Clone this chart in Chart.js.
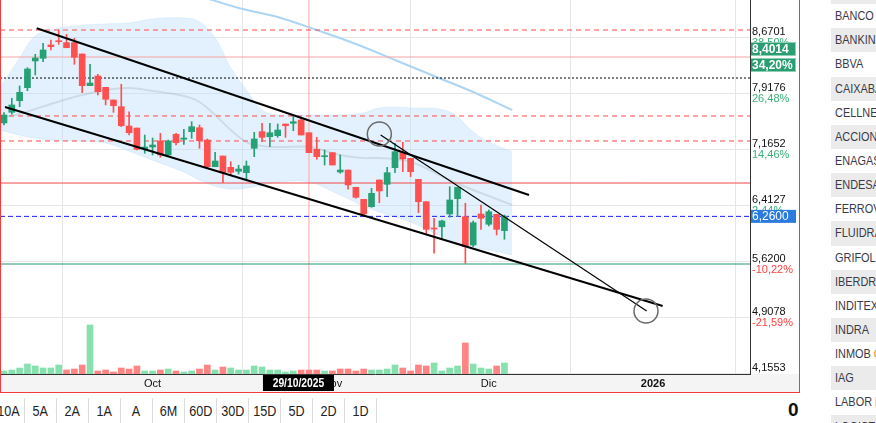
<!DOCTYPE html>
<html lang="es">
  <head>
    <meta charset="UTF-8" />
    <meta name="viewport" content="width=device-width, initial-scale=1.0" />
    <script src="https://cdn.jsdelivr.net/npm/chart.js@4.4.1/dist/chart.umd.min.js"></script>
    <title>Cotización</title>
    <style>
      body { margin: 0; width: 876px; height: 423px; overflow: hidden; background: #fff;
             font-family: "Liberation Sans", Arial, sans-serif; }
      #chart { position: absolute; left: 0; top: 0; }
      #frame { position: absolute; left: 0; top: -1px; width: 800px; height: 394px; box-sizing: border-box;
               border: 1px solid #f03c3c; pointer-events: none; }
      #periods { position: absolute; left: -7px; top: 398px; height: 25px; display: flex; }
      #periods div { width: 31px; border-right: 1px solid #dcdcdc; text-align: center; line-height: 25px;
                     font-size: 15px; color: #222; }
      #periods span, #list span { display: inline-block; transform: scaleX(0.84); }
      #periods span { transform-origin: center; }
      #zero { position: absolute; left: 788px; top: 399px; font: bold 19px "Liberation Sans", Arial, sans-serif; color: #111; }
      #list { position: absolute; left: 831px; top: -20px; width: 60px; }
      #list div { height: 24.15px; line-height: 24.15px; padding-left: 4px; font-size: 13px; color: #3a3a48;
                  white-space: nowrap; overflow: hidden; }
      #list span { transform-origin: left center; }
      #list div:nth-child(odd) { background: #ebebeb; }
    </style>
  </head>
  <body>
    <canvas id="chart" width="799" height="392"></canvas>
    <div id="frame"></div>
    <div id="periods"></div>
    <div id="zero">0</div>
    <div id="list"></div>
    <script>
      // velas diarias (indice 0 = 4/9/2025)
      const opens = [7.515, 7.658, 7.814, 7.989, 8.348, 8.384, 8.563, 8.620, 8.594, 8.594,
        8.442, 8.016, 8.146, 7.994, 7.824, 7.734, 7.474, 7.447, 7.165, 7.192,
        7.273, 7.085, 7.363, 7.296, 7.398, 7.451, 7.286, 6.927, 7.071, 6.919,
        6.866, 6.847, 7.175, 7.398, 7.330, 7.344, 7.501, 7.511, 7.555, 7.384,
        7.161, 7.062, 7.116, 6.856, 6.883, 6.651, 6.489, 6.390, 6.749, 6.691,
        6.914, 7.121, 7.040, 6.758, 6.457, 6.100, 6.121, 6.292, 6.498, 6.256,
        5.875, 6.292, 6.154, 6.288, 6.068];
      const highs = [7.653, 7.847, 8.012, 8.258, 8.438, 8.586, 8.630, 8.764, 8.706, 8.653,
        8.442, 8.303, 8.169, 7.994, 7.824, 8.035, 7.666, 7.447, 7.353, 7.313,
        7.376, 7.286, 7.376, 7.430, 7.532, 7.488, 7.300, 7.121, 7.071, 6.995,
        6.947, 7.004, 7.390, 7.511, 7.511, 7.501, 7.501, 7.599, 7.582, 7.384,
        7.322, 7.152, 7.116, 7.085, 6.883, 6.651, 6.489, 6.637, 6.749, 6.919,
        7.242, 7.255, 7.040, 6.758, 6.457, 6.234, 6.211, 6.659, 6.651, 6.436,
        6.198, 6.413, 6.346, 6.288, 6.278];
      const lows = [7.488, 7.632, 7.734, 7.949, 8.160, 8.338, 8.496, 8.572, 8.526, 8.303,
        7.922, 8.016, 7.891, 7.757, 7.658, 7.465, 7.353, 7.152, 7.108, 7.085,
        7.054, 7.071, 7.219, 7.228, 7.309, 7.175, 6.914, 6.927, 6.712, 6.816,
        6.829, 6.749, 7.062, 7.263, 7.196, 7.322, 7.322, 7.411, 7.353, 7.116,
        7.027, 6.950, 6.950, 6.839, 6.624, 6.503, 6.278, 6.382, 6.444, 6.524,
        6.847, 6.860, 6.793, 6.309, 6.033, 5.764, 5.965, 6.248, 6.256, 5.629,
        5.853, 6.086, 6.131, 6.010, 5.952];
      const closes = [7.622, 7.757, 7.927, 8.240, 8.388, 8.496, 8.540, 8.607, 8.526, 8.397,
        8.016, 8.052, 7.935, 7.833, 7.747, 7.478, 7.384, 7.161, 7.192, 7.219,
        7.085, 7.273, 7.250, 7.313, 7.465, 7.277, 6.927, 7.004, 6.847, 6.853,
        6.896, 6.937, 7.300, 7.322, 7.384, 7.420, 7.478, 7.532, 7.353, 7.116,
        7.062, 7.071, 6.950, 6.883, 6.682, 6.516, 6.292, 6.570, 6.601, 6.847,
        7.129, 7.031, 6.860, 6.457, 6.086, 6.090, 6.198, 6.480, 6.651, 5.853,
        6.175, 6.234, 6.323, 6.086, 6.260];
      // volumen (millones)
      const volumes = [0.6, 0.8, 1.2, 2.0, 1.6, 1.2, 1.2, 1.8, 0.8, 1.0,
        1.8, 9.8, 0.6, 0.8, 0.4, 1.2, 1.0, 1.6, 0.6, 0.6,
        0.8, 1.0, 0.6, 0.4, 0.6, 1.0, 1.8, 0.8, 1.4, 1.2,
        0.8, 0.8, 1.6, 1.4, 0.8, 0.8, 0.4, 0.6, 0.8, 0.8,
        0.8, 0.6, 0.6, 1.0, 1.0, 0.6, 1.0, 0.8, 0.8, 1.0,
        1.8, 1.2, 0.6, 1.8, 1.6, 2.2, 0.6, 1.2, 1.6, 6.2,
        2.0, 1.2, 1.0, 1.6, 2.2];

      // bandas de Bollinger
      const bandX = [-0.5, 2, 4, 6, 9, 13, 16, 19, 23, 25, 27, 29, 31, 33, 35, 39, 43, 46, 48, 52, 57, 60, 62, 65];
      const bandUpper = [7.985, 8.388, 8.684, 8.764, 8.818, 8.845, 8.858, 8.912, 8.925, 8.872, 8.657, 8.254,
        7.958, 7.689, 7.622, 7.622, 7.622, 7.649, 7.716, 7.716, 7.662, 7.394, 7.259, 7.125];
      const bandMid = [7.582, 7.636, 7.703, 7.770, 7.864, 7.958, 7.985, 7.945, 7.877, 7.797, 7.622, 7.421,
        7.259, 7.206, 7.192, 7.192, 7.085, 7.044, 7.044, 6.991, 6.749, 6.614, 6.534, 6.413];
      const bandLower = [7.421, 7.353, 7.313, 7.286, 7.273, 7.246, 7.138, 7.017, 6.856, 6.749, 6.668, 6.628,
        6.641, 6.682, 6.722, 6.722, 6.547, 6.399, 6.319, 6.184, 5.943, 5.835, 5.808, 5.741];
      // media larga
      const smaX = [25, 30, 35, 40, 45, 50, 55, 60, 65];
      const smaVals = [9.22, 9.060, 8.939, 8.764, 8.576, 8.361, 8.146, 7.931, 7.689];

      // directrices
      const trendA = [[4.18, 8.787], [67.14, 6.547]];
      const trendB = [[0.13, 7.730], [84.23, 5.056]];
      const trendC = [[48.17, 7.353], [82.19, 4.989]];
      const circles = [[48.0, 7.367], [82.1, 4.989]];

      // niveles horizontales
      const levels = [8.764, 8.4014, 8.119, 7.609, 7.273, 6.708, 6.26, 5.62];

      // ejes
      const gridValues = [8.6701, 7.9176, 7.1652, 6.4127, 5.6603, 4.9078, 4.1553];
      const axisValues = [8.6701, 7.9176, 7.1652, 6.4127, 5.62, 4.9078, 4.1553];
      const axisPct = ["38,50%", "26,48%", "14,46%", "2,44%", "-10,22%", "-21,59%", "-33,62%"];
      const tickPos = [19, 42, 62, 83];
      const tickLabels = ["Oct", "Nov", "Dic", "2026"];
      const crossIndex = 39;
      const crossLabel = "29/10/2025";
      const lastPrice = 6.26;
      const maxPrice = 8.4014;
      const maxPct = "34,20%";

      const periods = ["10A", "5A", "2A", "1A", "A", "6M", "60D", "30D", "15D", "5D", "2D", "1D"];
      const tickers = ["", "BANCO", "BANKINTER", "BBVA", "CAIXABANK", "CELLNEX", "ACCIONA", "ENAGAS", "ENDESA",
        "FERROVIAL", "FLUIDRA", "GRIFOLS", "IBERDROLA", "INDITEX", "INDRA", "INMOB COL", "IAG", "LABOR ROVI", "LOGISTA"];

      document.getElementById("periods").innerHTML = periods.map(p => "<div><span>" + p + "</span></div>").join("");
      document.getElementById("list").innerHTML = tickers
        .map(t => "<div><span>" + (t === "INMOB COL" ? 'INMOB <b style="color:#e8832a;font-weight:normal">C</b>' : t) + "</span></div>")
        .join("");

      const GREEN = "#26a075";
      const RED = "#ff5050";
      const XMIN = -0.51, XMAX = 95.4;
      const FONT = '"Liberation Sans", Arial, sans-serif';

      const candleColors = closes.map((c, i) => (c >= opens[i] ? GREEN : RED));
      const volColors = closes.map((c, i) => (i === 0 || c >= closes[i - 1] ? "#86e1af" : "#ff8585"));
      const pts = arr => arr.map(p => ({ x: p[0], y: p[1] }));

      const levelStyles = [
        { c: "#ff4a4a", d: [5, 4] },
        { c: "#f6a3a3", d: [] },
        { c: "#000000", d: [2, 2] },
        { c: "#ff4a4a", d: [5, 4] },
        { c: "#ff4a4a", d: [5, 4] },
        { c: "#f04848", d: [] },
        { c: "#1a1aff", d: [5, 3] },
        { c: "#1e9a6e", d: [] },
      ];

      const datasets = [];
      datasets.push({
        type: "line", data: bandX.map((x, i) => ({ x, y: bandUpper[i] })),
        borderColor: "rgba(200,228,250,0.5)", borderWidth: 1, pointRadius: 0, tension: 0.4,
        fill: "+1", backgroundColor: "rgba(187,222,251,0.42)", order: 20,
      });
      datasets.push({
        type: "line", data: bandX.map((x, i) => ({ x, y: bandLower[i] })),
        borderColor: "rgba(200,228,250,0.5)", borderWidth: 1, pointRadius: 0, tension: 0.4, order: 20,
      });
      datasets.push({
        type: "line", data: bandX.map((x, i) => ({ x, y: bandMid[i] })),
        borderColor: "rgba(0,0,0,0.09)", borderWidth: 2, pointRadius: 0, tension: 0.4, order: 19,
      });
      datasets.push({
        type: "line", data: smaX.map((x, i) => ({ x, y: smaVals[i] })),
        borderColor: "#acd5f5", borderWidth: 2, pointRadius: 0, tension: 0.3, order: 19,
      });
      levels.forEach((v, i) => {
        datasets.push({
          type: "line", data: [{ x: XMIN, y: v }, { x: XMAX, y: v }],
          borderColor: levelStyles[i].c, borderDash: levelStyles[i].d, borderWidth: 1, pointRadius: 0, order: 18,
        });
      });
      datasets.push({
        type: "line", data: [{ x: crossIndex, y: 4.0 }, { x: crossIndex, y: 9.5 }],
        borderColor: "#f7a8a8", borderWidth: 1, pointRadius: 0, order: 18,
      });
      datasets.push({
        type: "bar", yAxisID: "yv", data: volumes.map((v, i) => ({ x: i, y: v })),
        backgroundColor: volColors, barThickness: 6, grouped: false, order: 17,
      });
      datasets.push({
        type: "bar", data: highs.map((h, i) => ({ x: i, y: [lows[i], h] })),
        backgroundColor: candleColors, barThickness: 1, grouped: false, order: 16,
      });
      datasets.push({
        type: "bar", data: opens.map((o, i) => ({ x: i, y: [o, closes[i]] })),
        backgroundColor: candleColors, barThickness: 6, grouped: false, minBarLength: 1, order: 15,
      });
      [[trendA, 2], [trendB, 2], [trendC, 1.2]].forEach(([t, w]) => {
        datasets.push({ type: "line", data: pts(t), borderColor: "#000", borderWidth: w, pointRadius: 0, order: 10 });
      });
      datasets.push({
        type: "line", data: pts(circles), showLine: false, pointRadius: 12, pointBorderWidth: 1.5,
        pointBorderColor: "#6a6a6a", pointBackgroundColor: "rgba(0,0,0,0)", order: 9,
      });

      const overlay = {
        id: "overlay",
        beforeDraw(chart) {
          const { ctx, chartArea } = chart;
          ctx.save();
          ctx.fillStyle = "#f4f4f4";
          ctx.fillRect(0, chartArea.bottom, chart.width, chart.height - chartArea.bottom);
          ctx.restore();
        },
        afterDraw(chart) {
          const { ctx, chartArea, scales } = chart;
          const y = scales.y, x = scales.x;
          const lx = chartArea.right + 2;
          ctx.save();
          ctx.beginPath();
          ctx.rect(chartArea.right + 1, 0, 60, chartArea.bottom);
          ctx.clip();
          ctx.textBaseline = "middle";
          ctx.textAlign = "left";
          ctx.font = "11px " + FONT;
          axisValues.forEach((v, i) => {
            const py = y.getPixelForValue(v);
            ctx.fillStyle = "#111";
            ctx.fillText(v.toFixed(4).replace(".", ","), lx, py - 5);
            ctx.fillStyle = axisPct[i].startsWith("-") ? "#ff4040" : "#3aae78";
            ctx.fillText(axisPct[i], lx, py + 6);
          });
          // recuadros de maximo y ultimo precio
          const pm = y.getPixelForValue(maxPrice);
          ctx.fillStyle = "#2a9d72";
          ctx.strokeStyle = "#8fd0b3";
          ctx.fillRect(chartArea.right - 1, pm - 15, 47, 14);
          ctx.strokeRect(chartArea.right - 0.5, pm - 14.5, 46, 13);
          ctx.fillRect(chartArea.right - 1, pm + 1, 47, 14);
          ctx.strokeRect(chartArea.right - 0.5, pm + 1.5, 46, 13);
          ctx.fillStyle = "#fff";
          ctx.font = "bold 12px " + FONT;
          ctx.fillText(maxPrice.toFixed(4).replace(".", ","), lx, pm - 7.5);
          ctx.fillText(maxPct, lx, pm + 8.5);
          const pl = y.getPixelForValue(lastPrice);
          ctx.fillStyle = "#2b7bde";
          ctx.fillRect(chartArea.right - 1, pl - 6.5, 47, 13);
          ctx.fillStyle = "#fff";
          ctx.font = "12px " + FONT;
          ctx.fillText(lastPrice.toFixed(4).replace(".", ","), lx, pl + 0.5);
          ctx.restore();
          // etiqueta de fecha del cursor
          const px = x.getPixelForValue(crossIndex);
          ctx.save();
          ctx.fillStyle = "#000";
          ctx.fillRect(px - 46, chartArea.bottom + 1, 71, 16);
          ctx.fillStyle = "#fff";
          ctx.font = "bold 12px " + FONT;
          ctx.textAlign = "center";
          ctx.textBaseline = "middle";
          ctx.translate(px - 10.5, chartArea.bottom + 9.5);
          ctx.scale(0.86, 1);
          ctx.fillText(crossLabel, 0, 0);
          ctx.restore();
        },
      };

      new Chart(document.getElementById("chart"), {
        type: "bar",
        data: { datasets },
        options: {
          responsive: false,
          animation: false,
          devicePixelRatio: 1,
          layout: { padding: 0, autoPadding: false },
          plugins: { legend: { display: false }, tooltip: { enabled: false } },
          scales: {
            x: {
              type: "linear", min: XMIN, max: XMAX, offset: false,
              afterBuildTicks: s => { s.ticks = tickPos.map(v => ({ value: v })); },
              afterFit: s => { s.height = 18; },
              grid: { color: "#e6e6e6", drawTicks: false },
              border: { color: "#333" },
              ticks: {
                autoSkip: false, maxRotation: 0, padding: 3, color: "#111",
                font: c => ({ family: FONT, size: 11, weight: tickLabels[c.index] === "2026" ? "bold" : "normal" }),
                callback: (v, i) => tickLabels[i],
              },
            },
            y: {
              position: "right", min: 4.142, max: 9.1673,
              afterBuildTicks: s => { s.ticks = gridValues.map(v => ({ value: v })); },
              afterFit: s => { s.width = 49; },
              grid: { color: "#e6e6e6", drawTicks: false },
              border: { color: "#333" },
              ticks: { display: false },
            },
            yv: { display: false, min: 0, max: 74.8 },
          },
        },
        plugins: [overlay],
      });
    </script>
  </body>
</html>
